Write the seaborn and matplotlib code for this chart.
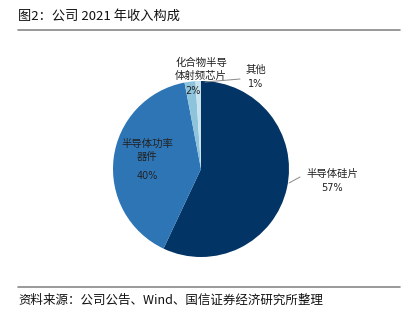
import matplotlib
matplotlib.use("Agg")
import matplotlib.pyplot as plt
import seaborn as sns

sns.set_theme(style="white")
plt.rcParams['font.family'] = ['Noto Sans CJK SC', 'DejaVu Sans']

categories = ["半导体硅片", "半导体功率器件", "化合物半导体射频芯片", "其他"]
shares = [57, 40, 2, 1]
colors = ["#033466", "#2E75B6", "#8DC3DB", "#C8E2EE"]
title = "图2：公司 2021 年收入构成"
source = "资料来源：公司公告、Wind、国信证券经济研究所整理"

W, H = 410, 322
fig = plt.figure(figsize=(W / 100, H / 100), dpi=100)
ax = fig.add_axes([0, 0, 1, 1])

cx, cy, r = 201, H - 169, 88
ax.pie(shares, colors=colors, startangle=90, counterclock=False,
       center=(cx, cy), radius=r,
       wedgeprops=dict(linewidth=0))
ax.set_xlim(0, W)
ax.set_ylim(0, H)
ax.set_aspect("equal")
ax.axis("off")

def y(p):
    return H - p

# title and rules
ax.text(18, y(16), title, fontsize=9.5, va="center", ha="left", color="#111111")
ax.plot([18, 400], [y(30), y(30)], color="#888888", lw=1.2)
ax.plot([18, 400], [y(287), y(287)], color="#888888", lw=1.2)
ax.text(18, y(300), source, fontsize=9, va="center", ha="left", color="#111111")

lab_kw = dict(fontsize=7.5, ha="center", va="center", color="#222222", linespacing=1.35)
pct_kw = dict(fontsize=7, ha="center", va="center", color="#222222",
              family=["DejaVu Sans"])

# silicon wafers
ax.plot([289, 300], [y(183), y(177)], color="#888888", lw=0.7)
ax.text(332, y(174), categories[0], **lab_kw)
ax.text(332, y(188), f"{shares[0]}%", **pct_kw)

# power devices
ax.text(147, y(150), "半导体功率\n器件", **lab_kw)
ax.text(147, y(176), f"{shares[1]}%", **pct_kw)

# RF chips
ax.text(201, y(69), "化合物半导\n体射频芯片", **lab_kw)
ax.text(193, y(91), f"{shares[2]}%", **pct_kw)

# other
ax.plot([205, 240], [y(82), y(79)], color="#888888", lw=0.7)
ax.text(256, y(70), categories[3], **lab_kw)
ax.text(256, y(84), f"{shares[3]}%", **pct_kw)

fig.savefig("out.png", dpi=100)
